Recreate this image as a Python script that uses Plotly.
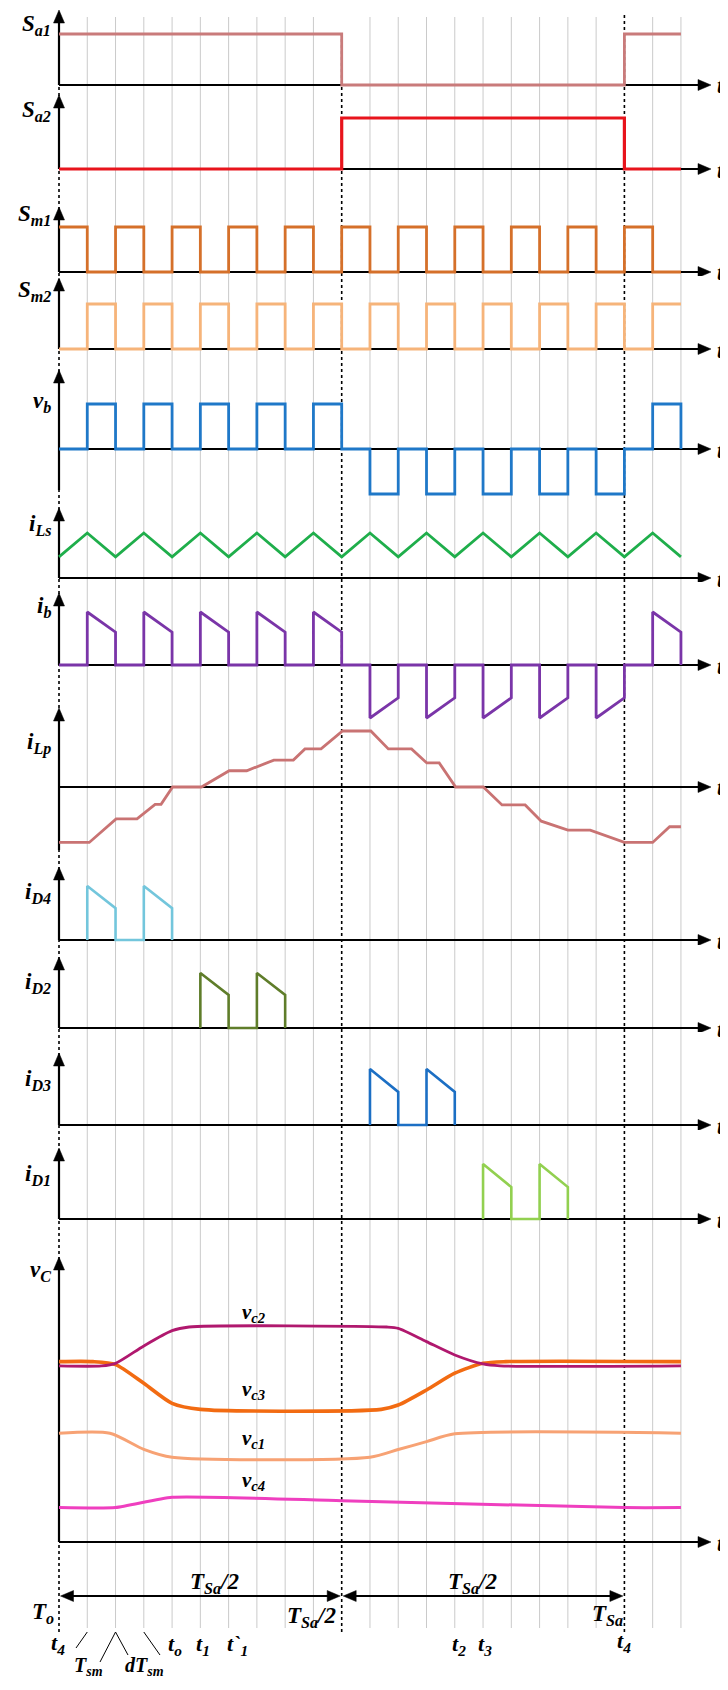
import plotly.graph_objects as go

W, H = 728, 1690          # page size
OFF = 8                   # default page margin around the figure div
WF, HF = W - OFF, H - 2 * OFF  # figure size (no page overflow)

# ---------------- data (time in grid units of T_sm/2 steps) ----------------
t_grid = [0, 1, 2, 3, 4, 5, 6, 7, 8, 9, 10, 11, 12, 13, 14, 15, 16, 17, 18, 19, 20, 21, 22]

sa1_t = [0, 10, 20, 22]
sa1_v = [1, 0, 1, 1]
sa2_t = [0, 10, 20, 22]
sa2_v = [0, 1, 0, 0]

sm1_v = [1, 0, 1, 0, 1, 0, 1, 0, 1, 0, 1, 0, 1, 0, 1, 0, 1, 0, 1, 0, 1, 0, 0]
sm2_v = [0, 1, 0, 1, 0, 1, 0, 1, 0, 1, 0, 1, 0, 1, 0, 1, 0, 1, 0, 1, 0, 1, 1]

vb_t = [0, 1, 2, 3, 4, 5, 6, 7, 8, 9, 10, 11, 12, 13, 14, 15, 16, 17, 18, 19, 20, 21, 22, 22]
vb_v = [0, 1, 0, 1, 0, 1, 0, 1, 0, 1, 0, -1, 0, -1, 0, -1, 0, -1, 0, -1, 0, 1, 1, 0]

ils_v = [0.47, 1, 0.47, 1, 0.47, 1, 0.47, 1, 0.47, 1, 0.47, 1, 0.47, 1, 0.47, 1,
         0.47, 1, 0.47, 1, 0.47, 1, 0.47]

ib_t = [0, 1, 1, 2, 2, 3, 3, 4, 4, 5, 5, 6, 6, 7, 7, 8, 8, 9, 9, 10, 10, 11, 11,
        12, 12, 13, 13, 14, 14, 15, 15, 16, 16, 17, 17, 18, 18, 19, 19, 20, 20,
        21, 21, 22, 22]
ib_v = [0, 0, 1, 0.62, 0, 0, 1, 0.62, 0, 0, 1, 0.62, 0, 0, 1, 0.62, 0, 0, 1, 0.62, 0,
        0, -1, -0.62, 0, 0, -1, -0.62, 0, 0, -1, -0.62, 0, 0, -1, -0.62, 0, 0, -1,
        -0.62, 0, 0, 1, 0.62, 0]

ilp_t = [0, 1.07, 2.02, 2.76, 3.4, 3.61, 4.02, 5.04, 6.02, 6.64, 7.6, 8.29, 8.7, 9.27,
         10.03, 11.03, 11.65, 12.47, 13.01, 13.45, 14.03, 15.01, 15.67, 16.49, 17.06,
         17.31, 18.0, 18.79, 20.0, 21.0, 21.6, 22.0]
ilp_v = [-0.99, -0.99, -0.57, -0.57, -0.31, -0.31, 0, 0, 0.29, 0.29, 0.48, 0.48, 0.68,
         0.68, 1.0, 1.0, 0.68, 0.68, 0.43, 0.43, 0, 0, -0.32, -0.32, -0.61, -0.65,
         -0.77, -0.77, -0.99, -0.99, -0.71, -0.71]

id4_t = [1, 1, 2, 2, 3, 3, 4, 4]
id4_v = [0, 1, 0.59, 0, 0, 1, 0.59, 0]
id2_t = [5, 5, 6, 6, 7, 7, 8, 8]
id2_v = [0, 1, 0.6, 0, 0, 1, 0.6, 0]
id3_t = [11, 11, 12, 12, 13, 13, 14, 14]
id3_v = [0, 1, 0.59, 0, 0, 1, 0.59, 0]
id1_t = [15, 15, 16, 16, 17, 17, 18, 18]
id1_v = [0, 1, 0.58, 0, 0, 1, 0.58, 0]

vc2_t = [0, 1.5, 2.0, 3.0, 4.0, 4.6, 11.6, 12.0, 13.0, 14.0, 15.0, 15.6, 22]
vc2_v = [0.819, 0.819, 0.831, 0.912, 0.983, 1.0, 1.0, 0.994, 0.932, 0.870, 0.828, 0.819, 0.819]
vc3_t = [0, 1.2, 2.0, 3.0, 4.0, 5.0, 11.4, 12.0, 13.0, 14.0, 15.0, 15.8, 22]
vc3_v = [0.839, 0.839, 0.825, 0.738, 0.645, 0.617, 0.617, 0.637, 0.707, 0.785, 0.831, 0.839, 0.839]
vc1_t = [0, 1.8, 3.0, 4.0, 11.0, 12.0, 13.0, 14.0, 22]
vc1_v = [0.506, 0.506, 0.431, 0.394, 0.394, 0.43, 0.467, 0.503, 0.506]
vc4_t = [0, 2.0, 4.0, 10.0, 20.0, 22.0]
vc4_v = [0.16, 0.16, 0.208, 0.192, 0.16, 0.16]

# ---------------- layout geometry (page pixels) ----------------
X0PX, UPX = 59.0, 28.27          # page pixel of t=0 and pixels per grid unit

def ux(px):
    return (px - X0PX) / UPX

def py(px):
    return 1 - (px - OFF) / HF

def pxp(px):
    return (px - OFF) / WF

XR = [ux(OFF), ux(OFF + WF)]

# name: (band top, band bottom, px of value 0, px of value 1, axis tip, axis bottom, label, label y)
panels = [
    ("Sa1", 8, 92, 85, 34, 10, 85, "S<sub>a1</sub>", 25),
    ("Sa2", 92, 178, 169, 118, 95, 169, "S<sub>a2</sub>", 111),
    ("Sm1", 190, 276, 272, 227, 207, 272, "S<sub>m1</sub>", 215),
    ("Sm2", 276, 355, 349, 304, 278, 349, "S<sub>m2</sub>", 291),
    ("vb", 362, 500, 449, 404, 370, 490, "v<sub>b</sub>", 402),
    ("iLs", 500, 582, 578, 533, 508, 578, "i<sub>Ls</sub>", 525),
    ("ib", 585, 725, 665, 612, 593, 665, "i<sub>b</sub>", 607),
    ("iLp", 700, 852, 787, 731, 708, 850, "i<sub>Lp</sub>", 743),
    ("iD4", 858, 945, 940, 886, 867, 940, "i<sub>D4</sub>", 893),
    ("iD2", 948, 1032, 1028, 973, 957, 1028, "i<sub>D2</sub>", 983),
    ("iD3", 1045, 1130, 1125, 1069, 1053, 1125, "i<sub>D3</sub>", 1080),
    ("iD1", 1140, 1224, 1219, 1164, 1148, 1219, "i<sub>D1</sub>", 1175),
    ("vC", 1250, 1552, 1542, 1327, 1257, 1542, "v<sub>C</sub>", 1271),
]

FONT = "Liberation Serif"
LABFS = 23
fig = go.Figure()
shapes, annos = [], []
layout = dict(width=WF, height=HF, margin=dict(l=0, r=0, t=0, b=0),
              paper_bgcolor="white", plot_bgcolor="rgba(0,0,0,0)", showlegend=False)

HEAD = {
    "right": "M 0 0 L -13 5.5 L -13 -5.5 Z",
    "left": "M 0 0 L 13 5.5 L 13 -5.5 Z",
    "up": "M 0 0 L -5.5 -13 L 5.5 -13 Z",
}

def head(xr, yr, x, y, d):
    shapes.append(dict(type="path", xref=xr, yref=yr, xsizemode="pixel",
                       ysizemode="pixel", xanchor=x, yanchor=y, path=HEAD[d],
                       fillcolor="black", line=dict(color="black", width=0.5)))

def txt(xpx, ypx, s, size=22, anchor="center"):
    annos.append(dict(x=pxp(xpx), y=py(ypx), xref="paper", yref="paper", text=s,
                      xanchor=anchor, yanchor="middle", showarrow=False,
                      font=dict(family=FONT, size=size, color="black")))

idx = {}
for i, (name, top, bot, y0, y1, tip, abot, lab, laby) in enumerate(panels):
    n = i + 1
    idx[name] = n
    sfx = "" if n == 1 else str(n)
    k = y0 - y1
    rng = [(y0 - bot) / k, (y0 - top) / k]
    layout["xaxis" + sfx] = dict(domain=[0, 1], range=XR, visible=False, fixedrange=True,
                                 anchor="y" + sfx)
    layout["yaxis" + sfx] = dict(domain=[py(bot), py(top)], range=rng, visible=False,
                                 fixedrange=True, anchor="x" + sfx)
    xr, yr = "x" + sfx, "y" + sfx
    # axes lines
    shapes.append(dict(type="line", xref=xr, yref=yr, x0=0, x1=ux(700), y0=0, y1=0,
                       line=dict(color="black", width=2.2), layer="below"))
    shapes.append(dict(type="line", xref=xr, yref=yr, x0=0, x1=0,
                       y0=(y0 - abot) / k, y1=(y0 - tip - 8) / k,
                       line=dict(color="black", width=2.2), layer="below"))
    head(xr, yr, ux(711), 0, "right")
    head(xr, yr, 0, (y0 - tip) / k, "up")
    txt(720, y0 + 1, "<b><i>t</i></b>", 23)
    txt(53, laby, "<b><i>" + lab + "</i></b>", LABFS, "right")

def add(name, x, y, color, width=2.8, shape="linear", smoothing=None):
    n = idx[name]
    sfx = "" if n == 1 else str(n)
    line = dict(color=color, width=width, shape=shape)
    if smoothing is not None:
        line["smoothing"] = smoothing
    fig.add_trace(go.Scatter(x=x, y=y, mode="lines", line=line, xaxis="x" + sfx,
                             yaxis="y" + sfx, hoverinfo="skip"))

add("Sa1", sa1_t, sa1_v, "#c97b7b", 2.8, "hv")
add("Sa2", sa2_t, sa2_v, "#e8141c", 3.2, "hv")
add("Sm1", t_grid, sm1_v, "#d5702a", 2.8, "hv")
add("Sm2", t_grid, sm2_v, "#f6b47a", 2.8, "hv")
add("vb", vb_t, vb_v, "#1f78c8", 2.8, "hv")
add("iLs", t_grid, ils_v, "#1fae4b", 2.8)
add("ib", ib_t, ib_v, "#7a35a8", 2.8)
add("iLp", ilp_t, ilp_v, "#c97373", 2.8)
add("iD4", id4_t, id4_v, "#73c6dc", 2.6)
add("iD2", id2_t, id2_v, "#5f7d2a", 2.6)
add("iD3", id3_t, id3_v, "#1c6fc4", 2.6)
add("iD1", id1_t, id1_v, "#92d050", 2.6)
add("vC", vc1_t, vc1_v, "#f7a274", 3.0, "spline", 0.7)
add("vC", vc4_t, vc4_v, "#ef3fbf", 3.0, "spline", 0.5)
add("vC", vc3_t, vc3_v, "#f26b12", 3.6, "spline", 0.7)
add("vC", vc2_t, vc2_v, "#b0186e", 2.8, "spline", 0.7)

# grid lines and dashed period markers
for u in t_grid[1:]:
    if u in (10, 20):
        continue
    shapes.append(dict(type="line", xref="x", yref="paper", x0=u, x1=u, y0=py(1628),
                       y1=py(17), line=dict(color="#cacaca", width=1), layer="below"))
for u, top in ((0, 15), (10, 30), (20, 15)):
    shapes.append(dict(type="line", xref="x", yref="paper", x0=u, x1=u, y0=py(1632),
                       y1=py(top), line=dict(color="black", width=1.6, dash="dot"),
                       layer="below"))

# bottom double arrows (half periods)
for a, b in ((0.0, 10.0), (10.0, 20.0)):
    xa, xb = a + 1.5 / UPX, b - 1.5 / UPX
    shapes.append(dict(type="line", xref="x", yref="paper", x0=xa + 0.3, x1=xb - 0.3,
                       y0=py(1596), y1=py(1596), line=dict(color="black", width=2.2)))
    head("x", "paper", xa, py(1596), "left")
    head("x", "paper", xb, py(1596), "right")

# leader lines
for (ua, pa, ub, pb) in ((1, 1632, ux(76), 1648), (2, 1632, ux(100), 1662),
                         (2, 1632, ux(128), 1655), (3, 1632, ux(160), 1655)):
    shapes.append(dict(type="line", xref="x", yref="paper", x0=ua, y0=py(pa), x1=ub,
                       y1=py(pb), line=dict(color="black", width=1)))

txt(214, 1583, "<b><i>T<sub>Sa</sub>/2</i></b>", 23)
txt(472, 1583, "<b><i>T<sub>Sa</sub>/2</i></b>", 23)
txt(56, 1613, "<b><i>T<sub>o</sub></i></b>", 23, "right")
txt(311, 1617, "<b><i>T<sub>Sa</sub>/2</i></b>", 23)
txt(607, 1615, "<b><i>T<sub>Sa</sub></i></b>", 23)
txt(58, 1644, "<b><i>t<sub>4</sub></i></b>", 22)
txt(175, 1645, "<b><i>t<sub>o</sub></i></b>", 22)
txt(203, 1645, "<b><i>t<sub>1</sub></i></b>", 22)
txt(237, 1645, "<b><i>t`<sub>1</sub></i></b>", 22)
txt(459, 1645, "<b><i>t<sub>2</sub></i></b>", 22)
txt(485, 1645, "<b><i>t<sub>3</sub></i></b>", 22)
txt(624, 1642, "<b><i>t<sub>4</sub></i></b>", 22)
txt(88, 1666, "<b><i>T<sub>sm</sub></i></b>", 20)
txt(144, 1666, "<b><i>dT<sub>sm</sub></i></b>", 20)

txt(253, 1313, "<b><i>v<sub>c2</sub></i></b>", 21)
txt(253, 1390, "<b><i>v<sub>c3</sub></i></b>", 21)
txt(253, 1439, "<b><i>v<sub>c1</sub></i></b>", 21)
txt(253, 1481, "<b><i>v<sub>c4</sub></i></b>", 21)

layout["shapes"] = shapes
layout["annotations"] = annos
fig.update_layout(**layout)
fig.write_html("out.html")
